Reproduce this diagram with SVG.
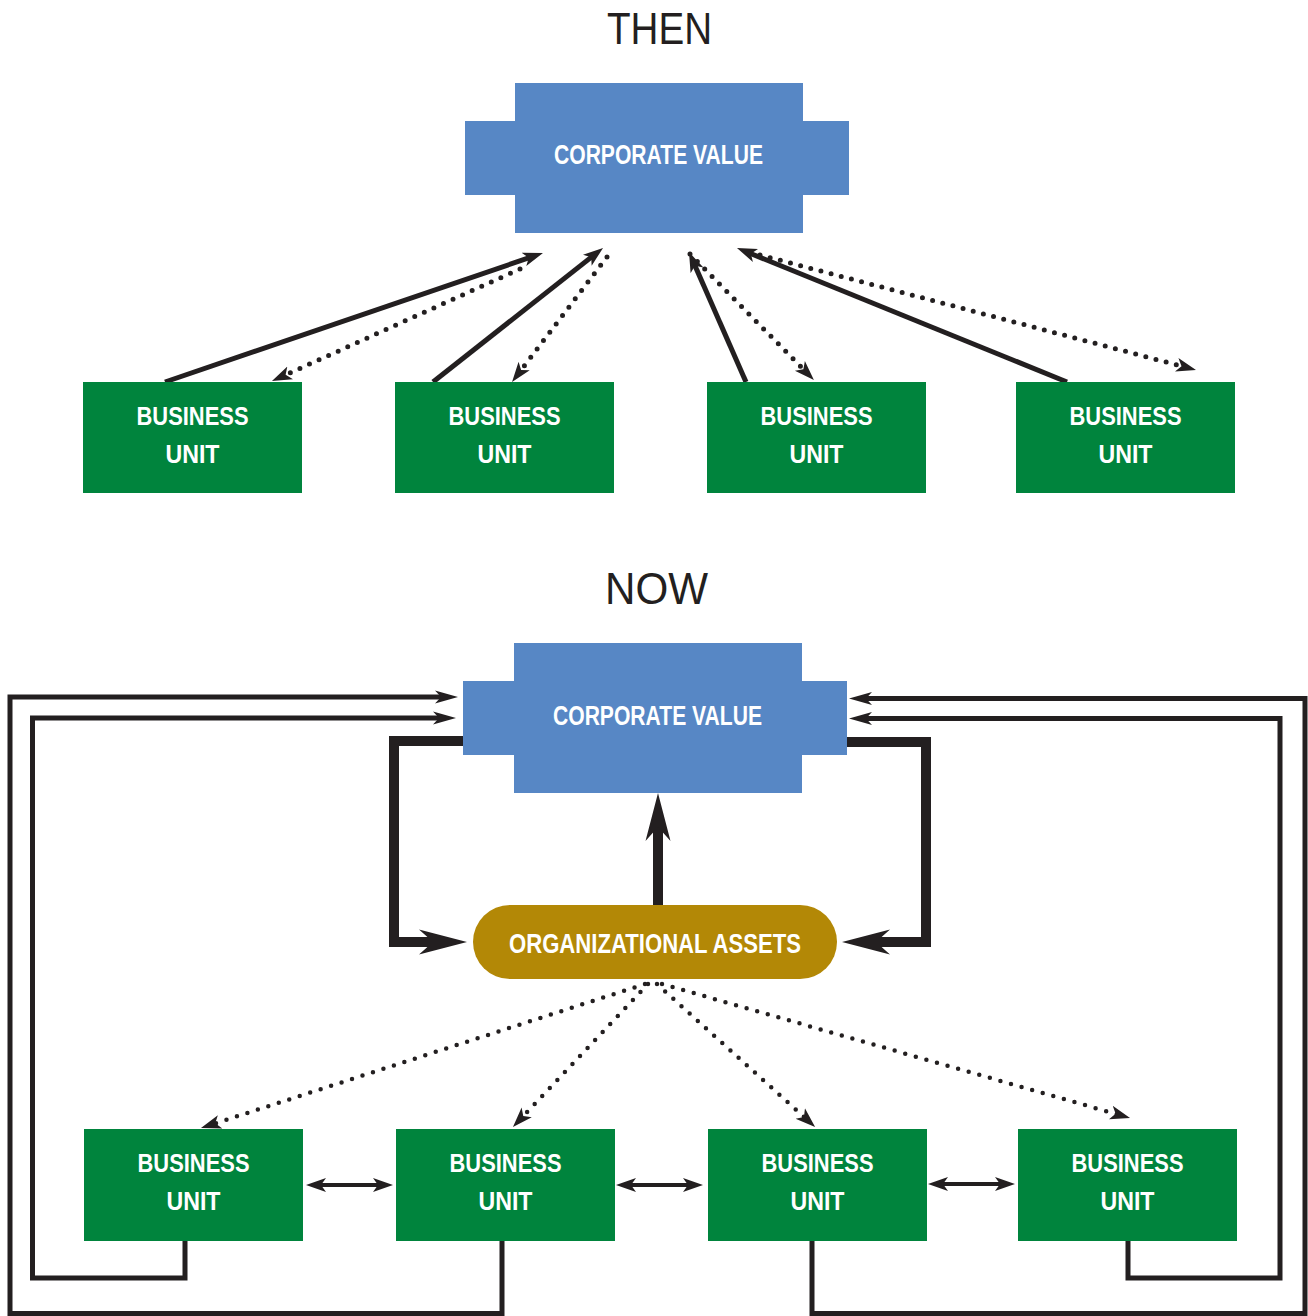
<svg xmlns="http://www.w3.org/2000/svg" width="1308" height="1316" viewBox="0 0 1308 1316">
<style>
.title{font-family:"Liberation Sans",Arial,sans-serif;font-size:44px;fill:#231F20;text-anchor:middle}
.lbl{font-family:"Liberation Sans",Arial,sans-serif;font-weight:bold;fill:#FFFFFF;text-anchor:middle}
.cv{fill:#5787C5}
.bu{fill:#00843D}
.oa{fill:#B38806}
.solid{fill:none;stroke:#231F20;stroke-width:5}
.dot{fill:none;stroke:#231F20;stroke-width:5;stroke-linecap:round;stroke-dasharray:0 10.5}
.dot2{fill:none;stroke:#231F20;stroke-width:4.5;stroke-linecap:round;stroke-dasharray:0 11}
.loop{fill:none;stroke:#231F20;stroke-width:5;stroke-linejoin:miter}
.thick{fill:none;stroke:#231F20;stroke-width:10;stroke-linejoin:miter}
.dbl{fill:none;stroke:#231F20;stroke-width:4}
</style>
<defs>
<marker id="ah" markerUnits="userSpaceOnUse" markerWidth="24" markerHeight="16" viewBox="0 -8 24 16" refX="8" refY="0" orient="auto">
<path d="M0,-7 L20,0 L0,7 L5,0 Z" fill="#231F20"/>
</marker>
<marker id="ahd" markerUnits="userSpaceOnUse" markerWidth="24" markerHeight="16" viewBox="0 -8 24 16" refX="8" refY="0" orient="auto-start-reverse">
<path d="M0,-7 L20,0 L0,7 L5,0 Z" fill="#231F20"/>
</marker>
<marker id="ah2" markerUnits="userSpaceOnUse" markerWidth="26" markerHeight="16" viewBox="0 -8 26 16" refX="9" refY="0" orient="auto">
<path d="M0,-6.5 L23,0 L0,6.5 L6,0 Z" fill="#231F20"/>
</marker>
<marker id="ahb" markerUnits="userSpaceOnUse" markerWidth="50" markerHeight="28" viewBox="0 -14 50 28" refX="20" refY="0" orient="auto">
<path d="M0,-12.5 L48,0 L0,12.5 L14,0 Z" fill="#231F20"/>
</marker>
</defs>

<text class="title" x="659.5" y="44" textLength="105" lengthAdjust="spacingAndGlyphs">THEN</text>
<text class="title" x="656.5" y="604" textLength="103" lengthAdjust="spacingAndGlyphs">NOW</text>

<g id="connectors">
<!-- THEN -->
<path class="solid" d="M165,382 L531.6,256.9" marker-end="url(#ah)"/>
<path class="dot" d="M520,269 L282.9,376.1" marker-end="url(#ah)"/>
<path class="solid" d="M433,382 L593.6,255.4" marker-end="url(#ah)"/>
<path class="dot" d="M607,257 L519.3,372.4" marker-end="url(#ah)"/>
<path class="solid" d="M746,382 L693.8,263" marker-end="url(#ah)"/>
<path class="dot" d="M690,254 L805.5,371.5" marker-end="url(#ah)"/>
<path class="solid" d="M1067,382 L748.1,252.5" marker-end="url(#ah)"/>
<path class="dot" d="M760,255 L1184.4,366.9" marker-end="url(#ah)"/>
<!-- NOW outer loops -->
<path class="loop" d="M502,1241 V1313.5 H10 V697 H444" marker-end="url(#ah2)"/>
<path class="loop" d="M185,1241 V1278 H32.5 V718 H442" marker-end="url(#ah2)"/>
<path class="loop" d="M812,1241 V1313.5 H1305 V698.5 H863" marker-end="url(#ah2)"/>
<path class="loop" d="M1128,1241 V1278 H1280 V718.5 H863" marker-end="url(#ah2)"/>
<!-- thick brackets -->
<path class="thick" d="M463,741 H394 V942 H439" marker-end="url(#ahb)"/>
<path class="thick" d="M847,742 H926 V942 H870" marker-end="url(#ahb)"/>
<path class="thick" d="M658,905 V821" marker-end="url(#ahb)"/>
<!-- dotted from OA -->
<path class="dot2" d="M645,984 L212.4,1124.3" marker-end="url(#ah)"/>
<path class="dot2" d="M648,984 L521.2,1118.2" marker-end="url(#ah)"/>
<path class="dot2" d="M657,984 L806.2,1118.9" marker-end="url(#ah)"/>
<path class="dot2" d="M662,984 L1118.5,1114.7" marker-end="url(#ah)"/>
<!-- double arrows -->
<path class="dbl" d="M318,1185 H381" marker-start="url(#ahd)" marker-end="url(#ahd)"/>
<path class="dbl" d="M628,1185 H691" marker-start="url(#ahd)" marker-end="url(#ahd)"/>
<path class="dbl" d="M940,1184 H1003" marker-start="url(#ahd)" marker-end="url(#ahd)"/>
</g>

<g id="then-corporate-value">
<rect class="cv" x="515" y="83" width="288" height="150"/>
<rect class="cv" x="465" y="121" width="384" height="74"/>
<text class="lbl" x="658.5" y="164" font-size="27" textLength="209" lengthAdjust="spacingAndGlyphs">CORPORATE VALUE</text>
</g>
<g id="then-bu1">
<rect class="bu" x="83" y="382" width="219" height="111"/>
<text class="lbl" x="192.5" y="425" font-size="25" textLength="112" lengthAdjust="spacingAndGlyphs">BUSINESS</text>
<text class="lbl" x="192.5" y="463" font-size="25" textLength="54" lengthAdjust="spacingAndGlyphs">UNIT</text>
</g>
<g id="then-bu2">
<rect class="bu" x="395" y="382" width="219" height="111"/>
<text class="lbl" x="504.5" y="425" font-size="25" textLength="112" lengthAdjust="spacingAndGlyphs">BUSINESS</text>
<text class="lbl" x="504.5" y="463" font-size="25" textLength="54" lengthAdjust="spacingAndGlyphs">UNIT</text>
</g>
<g id="then-bu3">
<rect class="bu" x="707" y="382" width="219" height="111"/>
<text class="lbl" x="816.5" y="425" font-size="25" textLength="112" lengthAdjust="spacingAndGlyphs">BUSINESS</text>
<text class="lbl" x="816.5" y="463" font-size="25" textLength="54" lengthAdjust="spacingAndGlyphs">UNIT</text>
</g>
<g id="then-bu4">
<rect class="bu" x="1016" y="382" width="219" height="111"/>
<text class="lbl" x="1125.5" y="425" font-size="25" textLength="112" lengthAdjust="spacingAndGlyphs">BUSINESS</text>
<text class="lbl" x="1125.5" y="463" font-size="25" textLength="54" lengthAdjust="spacingAndGlyphs">UNIT</text>
</g>

<g id="now-corporate-value">
<rect class="cv" x="514" y="643" width="288" height="150"/>
<rect class="cv" x="463" y="681" width="384" height="74"/>
<text class="lbl" x="657.5" y="725" font-size="27" textLength="209" lengthAdjust="spacingAndGlyphs">CORPORATE VALUE</text>
</g>
<g id="organizational-assets">
<rect class="oa" x="473" y="905" width="364" height="74" rx="37" ry="37"/>
<text class="lbl" x="655" y="953" font-size="28" textLength="292" lengthAdjust="spacingAndGlyphs">ORGANIZATIONAL ASSETS</text>
</g>
<g id="now-bu1">
<rect class="bu" x="84" y="1129" width="219" height="112"/>
<text class="lbl" x="193.5" y="1172" font-size="25" textLength="112" lengthAdjust="spacingAndGlyphs">BUSINESS</text>
<text class="lbl" x="193.5" y="1210" font-size="25" textLength="54" lengthAdjust="spacingAndGlyphs">UNIT</text>
</g>
<g id="now-bu2">
<rect class="bu" x="396" y="1129" width="219" height="112"/>
<text class="lbl" x="505.5" y="1172" font-size="25" textLength="112" lengthAdjust="spacingAndGlyphs">BUSINESS</text>
<text class="lbl" x="505.5" y="1210" font-size="25" textLength="54" lengthAdjust="spacingAndGlyphs">UNIT</text>
</g>
<g id="now-bu3">
<rect class="bu" x="708" y="1129" width="219" height="112"/>
<text class="lbl" x="817.5" y="1172" font-size="25" textLength="112" lengthAdjust="spacingAndGlyphs">BUSINESS</text>
<text class="lbl" x="817.5" y="1210" font-size="25" textLength="54" lengthAdjust="spacingAndGlyphs">UNIT</text>
</g>
<g id="now-bu4">
<rect class="bu" x="1018" y="1129" width="219" height="112"/>
<text class="lbl" x="1127.5" y="1172" font-size="25" textLength="112" lengthAdjust="spacingAndGlyphs">BUSINESS</text>
<text class="lbl" x="1127.5" y="1210" font-size="25" textLength="54" lengthAdjust="spacingAndGlyphs">UNIT</text>
</g>
</svg>
